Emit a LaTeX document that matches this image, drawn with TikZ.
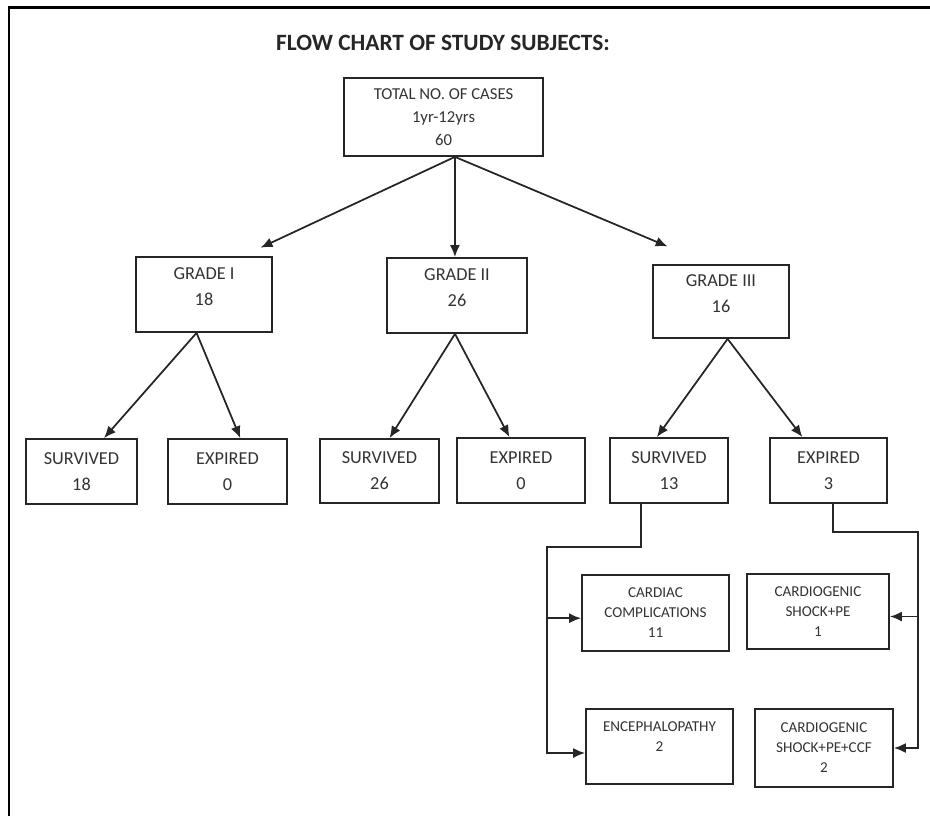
\documentclass[tikz,border=0pt]{standalone}
\usepackage{fontspec}
\setmainfont{Carlito}
\usetikzlibrary{arrows.meta}

\tikzset{
  box/.style={draw=black!85, line width=1pt, align=center, inner sep=0pt, text=black!80},
  bigtxt/.style={font=\fontsize{10.4}{14.8}\selectfont},
  midtxt/.style={font=\fontsize{9.5}{13}\selectfont},
  smalltxt/.style={font=\fontsize{8.6}{11.4}\selectfont},
  link/.style={->, draw=black!85, line width=1pt},
}

\begin{document}
\begin{tikzpicture}[x=0.02cm,y=-0.02cm,>={Latex[length=2.4mm,width=2mm]}]
  \useasboundingbox (0,0) rectangle (930,816);
  % frame of the scan
  \draw[line width=0.06cm] (9,816) -- (9,7.5) -- (930,7.5);
  \node[font=\bfseries\fontsize{13.3}{16}\selectfont, text=black!85] (title) at (443,43) {FLOW CHART OF STUDY SUBJECTS:};

  % top and grades
  \node[box, midtxt, minimum width=3.98cm, minimum height=1.56cm] (total) at (443.5,117) {TOTAL NO. OF CASES\\1yr-12yrs\\60};
  \node[box, bigtxt, minimum width=2.72cm, minimum height=1.5cm] (g1) at (204,294.5) {GRADE I\\18\\[-6pt]};
  \node[box, bigtxt, minimum width=2.8cm, minimum height=1.5cm] (g2) at (457,295.5) {GRADE II\\26\\[-6pt]};
  \node[box, bigtxt, minimum width=2.72cm, minimum height=1.46cm] (g3) at (721,301.5) {GRADE III\\16\\[-6pt]};

  % outcome row
  \node[box, bigtxt, minimum width=2.22cm, minimum height=1.3cm] (s1) at (81.5,471.5) {SURVIVED\\18};
  \node[box, bigtxt, minimum width=2.38cm, minimum height=1.3cm] (e1) at (227.5,471.5) {EXPIRED\\0};
  \node[box, bigtxt, minimum width=2.38cm, minimum height=1.28cm] (s2) at (379.5,471) {SURVIVED\\26};
  \node[box, bigtxt, minimum width=2.56cm, minimum height=1.3cm] (e2) at (521,470.5) {EXPIRED\\0};
  \node[box, bigtxt, minimum width=2.36cm, minimum height=1.3cm] (s3) at (669,470.5) {SURVIVED\\13};
  \node[box, bigtxt, minimum width=2.34cm, minimum height=1.3cm] (e3) at (828.5,470.5) {EXPIRED\\3};

  % grade III details
  \node[box, smalltxt, minimum width=2.94cm, minimum height=1.52cm] (cc) at (655.5,613) {CARDIAC\\COMPLICATIONS\\11};
  \node[box, smalltxt, minimum width=2.84cm, minimum height=1.5cm] (sp) at (818,611.5) {CARDIOGENIC\\SHOCK+PE\\1};
  \node[box, smalltxt, minimum width=2.94cm, minimum height=1.5cm] (en) at (659.5,746.5) {ENCEPHALOPATHY\\2\\~};
  \node[box, smalltxt, minimum width=2.76cm, minimum height=1.56cm] (spc) at (824,748) {CARDIOGENIC\\SHOCK+PE+CCF\\2};

  \coordinate (sbus) at (547,547);
  \coordinate (ebus) at (918,532);

  \draw[link, shorten >=0.4cm] (total.286) -- (g1.45);
  \draw[link] (total.286) -- (total.286 |- g2.north);
  \draw[link, shorten >=0.91cm] (total.286) -- (g3.107);

  \draw[link] (g1.259) -- (s1.56);
  \draw[link] (g1.259) -- (e1.69);
  \draw[link] (g2.267) -- (s2.73);
  \draw[link] (g2.267) -- (e2.109);
  \draw[link] (g3.280) -- (s3.110);
  \draw[link] (g3.280) -- (e3.128);

  \draw[link] (s3.230) |- (sbus) |- (en.185);
  \draw[link] (sbus |- cc.184) -- (cc.184);
  \draw[link] (e3.278) |- (ebus) |- (spc.east);
  \draw[link] (ebus |- sp.356) -- (sp.356);
\end{tikzpicture}
\end{document}
